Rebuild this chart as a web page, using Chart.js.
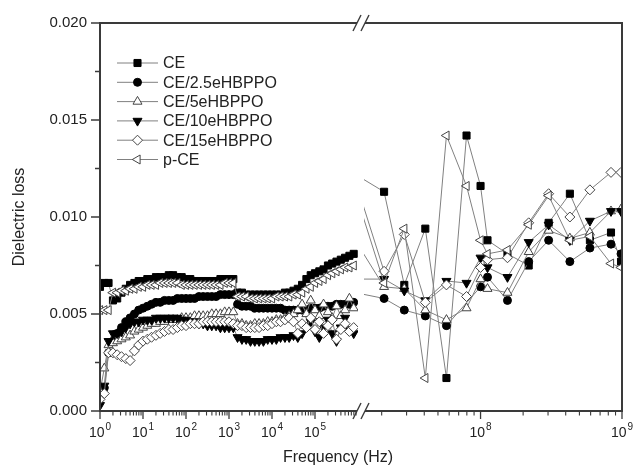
<!DOCTYPE html>
<html><head><meta charset="utf-8">
<script src="https://cdn.jsdelivr.net/npm/chart.js@4.4.1/dist/chart.umd.min.js"></script>
<style>
html,body{margin:0;padding:0;background:#fff;}
#wrap{position:relative;width:635px;height:472px;background:#fff;}
#wrap canvas{position:absolute;left:0;top:0;}
</style></head><body>
<div id="wrap"><canvas id="cL" width="635" height="472"></canvas><canvas id="cR" width="635" height="472"></canvas></div>
<script>
// ---------------- data ----------------
const seriesNames = ['CE', 'CE/2.5eHBPPO', 'CE/5eHBPPO', 'CE/10eHBPPO', 'CE/15eHBPPO', 'p-CE'];

// left part of the broken axis (Hz)
const leftFreq = [1,1.26,1.58,2,2.51,3.16,3.98,5.01,6.31,7.94,
  10,12.6,15.8,20,25.1,31.6,39.8,50.1,63.1,79.4,
  100,126,158,200,251,316,398,501,631,794,
  1000,1260,1580,2000,2510,3160,3980,5010,6310,7940,
  1e4,1.26e4,1.58e4,2e4,2.51e4,3.16e4,3.98e4,5.01e4,6.31e4,7.94e4,
  1e5,1.26e5,1.58e5,2e5,2.51e5,3.16e5,3.98e5,5.01e5,6.31e5,7.94e5];

const ceLeft = [0.0064,0.0066,0.0066,0.0057,0.0058,0.0061,0.0063,0.0065,0.0066,0.0067,
  0.0067,0.0068,0.0068,0.0069,0.0069,0.0069,0.0070,0.0070,0.0069,0.0069,
  0.0068,0.0068,0.0067,0.0067,0.0067,0.0067,0.0067,0.0067,0.0068,0.0068,
  0.0068,0.0068,0.0061,0.0061,0.0060,0.0060,0.0060,0.0060,0.0060,0.0060,
  0.0060,0.0060,0.0060,0.0061,0.0061,0.0062,0.0063,0.0065,0.0068,0.0070,
  0.0071,0.0072,0.0073,0.0075,0.0076,0.0077,0.0078,0.0079,0.0080,0.0081];
const ce25Left = [0.0008,0.0012,0.0030,0.0036,0.0040,0.0043,0.0046,0.0048,0.0050,0.0052,
  0.0053,0.0054,0.0055,0.0056,0.0056,0.0057,0.0057,0.0057,0.0058,0.0058,
  0.0058,0.0058,0.0058,0.0059,0.0059,0.0059,0.0059,0.0059,0.0060,0.0060,
  0.0060,0.0060,0.0055,0.0054,0.0054,0.0054,0.0053,0.0053,0.0053,0.0053,
  0.0053,0.0053,0.0053,0.0052,0.0052,0.0052,0.0052,0.0052,0.0052,0.0053,
  0.0053,0.0053,0.0054,0.0054,0.0054,0.0055,0.0055,0.0055,0.0055,0.0056];
const ce5Left = [0.0010,0.0022,0.0034,0.0035,0.0036,0.0037,0.0038,0.0039,0.0041,0.0042,
  0.0043,0.0044,0.0045,0.0045,0.0046,0.0046,0.0047,0.0047,0.0047,0.0048,
  0.0048,0.0048,0.0049,0.0049,0.0049,0.0049,0.0050,0.0050,0.0050,0.0051,
  0.0051,0.0051,0.0045,0.0045,0.0044,0.0044,0.0045,0.0045,0.0045,0.0046,
  0.0046,0.0047,0.0047,0.0048,0.0049,0.0050,0.0052,0.0055,0.0050,0.0057,
  0.0052,0.0049,0.0055,0.0051,0.0048,0.0054,0.0049,0.0052,0.0058,0.0053];
const ce10Left = [0.0003,0.0013,0.0036,0.0040,0.0040,0.0041,0.0043,0.0045,0.0046,0.0046,
  0.0047,0.0047,0.0047,0.0048,0.0048,0.0048,0.0048,0.0048,0.0048,0.0047,
  0.0047,0.0046,0.0046,0.0045,0.0045,0.0044,0.0044,0.0044,0.0043,0.0043,
  0.0043,0.0043,0.0038,0.0037,0.0037,0.0036,0.0036,0.0036,0.0036,0.0037,
  0.0037,0.0037,0.0038,0.0038,0.0038,0.0039,0.0038,0.0040,0.0044,0.0046,
  0.0041,0.0038,0.0043,0.0047,0.0040,0.0036,0.0043,0.0048,0.0042,0.0040];
const ce15Left = [0.0006,0.0009,0.0030,0.0030,0.0029,0.0028,0.0027,0.0026,0.0031,0.0034,
  0.0036,0.0037,0.0038,0.0039,0.0040,0.0041,0.0042,0.0042,0.0043,0.0044,
  0.0044,0.0045,0.0045,0.0045,0.0046,0.0046,0.0046,0.0046,0.0046,0.0046,
  0.0046,0.0045,0.0044,0.0044,0.0043,0.0043,0.0043,0.0043,0.0044,0.0044,
  0.0045,0.0046,0.0046,0.0047,0.0048,0.0046,0.0040,0.0045,0.0043,0.0048,
  0.0042,0.0046,0.0040,0.0044,0.0047,0.0037,0.0042,0.0045,0.0041,0.0043];
const pceLeft = [0.0052,0.0052,0.0052,0.0061,0.0061,0.0062,0.0062,0.0063,0.0063,0.0064,
  0.0064,0.0065,0.0065,0.0065,0.0066,0.0066,0.0066,0.0066,0.0066,0.0065,
  0.0065,0.0065,0.0065,0.0065,0.0065,0.0065,0.0065,0.0065,0.0065,0.0066,
  0.0066,0.0066,0.0059,0.0059,0.0059,0.0058,0.0058,0.0058,0.0058,0.0058,
  0.0058,0.0059,0.0059,0.0059,0.0059,0.0060,0.0060,0.0061,0.0063,0.0064,
  0.0066,0.0067,0.0068,0.0070,0.0071,0.0072,0.0073,0.0074,0.0074,0.0075];

// right part of the broken axis (Hz)
const rightFreq = [1.3e7,2.08e7,2.89e7,4.07e7,5.74e7,7.96e7,1.0e8,1.12e8,1.55e8,2.19e8,3.03e8,4.28e8,5.93e8,8.36e8,9.84e8];
const ceRight   = [0.0122,0.0113,0.0065,0.0094,0.0017,0.0142,0.0116,0.0088,0.0081,0.0075,0.0097,0.0112,0.0088,0.0092,0.0077];
const ce25Right = [0.0061,0.0058,0.0052,0.0049,0.0044,null,0.0064,0.0069,0.0057,0.0077,0.0088,0.0077,0.0084,0.0086,0.0081];
const ce5Right  = [0.0088,0.0064,0.0063,0.0052,0.0047,0.0053,0.0068,0.0063,0.0061,0.0082,0.0093,0.0089,0.0092,0.0103,0.0104];
const ce10Right = [0.0068,0.0068,0.0062,0.0057,0.0067,0.0066,0.0079,0.0074,0.0069,0.0087,0.0096,0.0088,0.0098,0.0103,0.0103];
const ce15Right = [0.0119,0.0072,0.0091,0.0056,0.0065,0.0059,0.0074,0.0078,0.0079,0.0097,0.0112,0.0100,0.0114,0.0123,0.0123];
const pceRight  = [0.0113,0.0066,0.0094,0.0017,0.0142,0.0116,0.0088,0.0081,0.0083,0.0096,0.0111,0.0088,0.0090,0.0076,0.0074];

// ticks
const yMajorTicks = [0, 0.005, 0.010, 0.015, 0.020];
const yMinorTicks = [0.0025, 0.0075, 0.0125, 0.0175];
const leftMajorTicks = [1, 10, 100, 1000, 10000, 100000];
const leftTickExps = ['0', '1', '2', '3', '4', '5'];
const rightMajorTicks = [1e8, 1e9];
const rightTickExps = ['8', '9'];
const xTitle = 'Frequency (Hz)';
const yTitle = 'Dielectric loss';

// ---------------- styles ----------------
const FONT = "'Liberation Sans', Arial, Helvetica, sans-serif";
const TEXT = '#222';
const AXIS = '#3a3a3a';
const LINE = '#808080';
const styles = [
  {style: 'rect', radius: 5, rotation: 0, bg: '#000', border: '#000'},
  {style: 'circle', radius: 4, rotation: 0, bg: '#000', border: '#000'},
  {style: 'triangle', radius: 5.2, rotation: 0, bg: '#fff', border: '#444'},
  {style: 'triangle', radius: 5.2, rotation: 180, bg: '#000', border: '#000'},
  {style: 'rectRot', radius: 5, rotation: 0, bg: '#fff', border: '#444'},
  {style: 'triangle', radius: 5.2, rotation: 270, bg: '#fff', border: '#444'}
];
const drawOrder = [6, 5, 4, 3, 2, 1];
const leftSets = [ceLeft, ce25Left, ce5Left, ce10Left, ce15Left, pceLeft];
const rightSets = [ceRight, ce25Right, ce5Right, ce10Right, ce15Right, pceRight];

function makeDatasets(freqs, sets, clip) {
  return sets.map((vals, k) => {
    const st = styles[k];
    const ds = {
      label: seriesNames[k],
      data: freqs.map((f, i) => ({x: f, y: vals[i]})),
      borderColor: LINE, borderWidth: 1, tension: 0, spanGaps: true,
      pointStyle: st.style, pointRadius: st.radius, pointRotation: st.rotation,
      pointBackgroundColor: st.bg, pointBorderColor: st.border, pointBorderWidth: 1,
      order: drawOrder[k]
    };
    if (clip) ds.clip = clip;
    return ds;
  });
}

// geometry of the plot frame
const TOP = 23, BOTTOM = 411, LEFT = 100, BREAK_L = 358, BREAK_R = 364, RIGHT = 622;

function line(ctx, x1, y1, x2, y2, w, c) {
  ctx.beginPath(); ctx.moveTo(x1, y1); ctx.lineTo(x2, y2);
  ctx.lineWidth = w; ctx.strokeStyle = c; ctx.stroke();
}
function minorList(majors) {
  const out = [];
  majors.forEach(m => { for (let d = 2; d <= 9; d++) out.push(m * d); });
  return out;
}
function powLabel(ctx, x, exp) {
  ctx.save();
  ctx.fillStyle = TEXT; ctx.textBaseline = 'alphabetic'; ctx.textAlign = 'left';
  ctx.font = '14px ' + FONT;
  const w1 = ctx.measureText('10').width;
  ctx.font = '10px ' + FONT;
  const w2 = ctx.measureText(exp).width;
  const x0 = x - (w1 + w2 + 1) / 2;
  ctx.font = '14px ' + FONT;
  ctx.fillText('10', x0, 437);
  ctx.font = '10px ' + FONT;
  ctx.fillText(exp, x0 + w1 + 1, 430);
  ctx.restore();
}
function drawMarker(ctx, st, x, y) {
  ctx.save();
  ctx.fillStyle = st.bg; ctx.strokeStyle = st.border; ctx.lineWidth = 1;
  if (window.Chart && Chart.helpers && Chart.helpers.drawPoint) {
    Chart.helpers.drawPoint(ctx, {pointStyle: st.style, radius: st.radius, rotation: st.rotation, borderWidth: 1}, x, y);
  } else {
    ctx.beginPath(); ctx.arc(x, y, st.radius, 0, Math.PI * 2); ctx.fill(); ctx.stroke();
  }
  ctx.restore();
}
function breakMarks(ctx, y) {
  ctx.save();
  ctx.fillStyle = '#fff';
  ctx.fillRect(BREAK_L - 1, y - 2, BREAK_R - BREAK_L + 2, 4);
  line(ctx, BREAK_L - 5, y + 8, BREAK_L + 3, y - 8, 1.4, AXIS);
  line(ctx, BREAK_R - 3, y + 8, BREAK_R + 5, y - 8, 1.4, AXIS);
  ctx.restore();
}

const leftDecor = {
  id: 'leftDecor',
  afterDraw(chart) {
    const ctx = chart.ctx, xs = chart.scales.x, ys = chart.scales.y;
    ctx.save();
    ctx.lineCap = 'butt';
    line(ctx, LEFT, TOP - 1, LEFT, BOTTOM + 1, 2, AXIS);
    line(ctx, LEFT, BOTTOM, BREAK_L, BOTTOM, 2, AXIS);
    line(ctx, LEFT, TOP, BREAK_L, TOP, 2, AXIS);
    yMajorTicks.forEach(v => { const y = ys.getPixelForValue(v); line(ctx, LEFT - 9, y, LEFT, y, 1.5, AXIS); });
    yMinorTicks.forEach(v => { const y = ys.getPixelForValue(v); line(ctx, LEFT - 5, y, LEFT, y, 1.5, AXIS); });
    leftMajorTicks.forEach((v, i) => {
      const x = xs.getPixelForValue(v);
      line(ctx, x, BOTTOM, x, BOTTOM + 8, 1.3, AXIS);
      powLabel(ctx, x, leftTickExps[i]);
    });
    minorList(leftMajorTicks).forEach(v => {
      const x = xs.getPixelForValue(v);
      if (x < BREAK_L - 1) line(ctx, x, BOTTOM, x, BOTTOM + 4.5, 1.1, AXIS);
    });
    seriesNames.forEach((name, k) => {
      const y = 63 + k * 19.3;
      line(ctx, 117, y, 158, y, 1, LINE);
      drawMarker(ctx, styles[k], 137.5, y);
      ctx.fillStyle = TEXT; ctx.font = '16px ' + FONT;
      ctx.textAlign = 'left'; ctx.textBaseline = 'middle';
      ctx.fillText(name, 163, y + 1);
    });
    ctx.restore();
  }
};

const rightDecor = {
  id: 'rightDecor',
  afterDraw(chart) {
    const ctx = chart.ctx, xs = chart.scales.x;
    ctx.save();
    ctx.lineCap = 'butt';
    line(ctx, BREAK_R, BOTTOM, RIGHT + 1, BOTTOM, 2, AXIS);
    line(ctx, BREAK_R, TOP, RIGHT + 1, TOP, 2, AXIS);
    line(ctx, RIGHT, TOP - 1, RIGHT, BOTTOM + 1, 2, AXIS);
    rightMajorTicks.forEach((v, i) => {
      const x = xs.getPixelForValue(v);
      line(ctx, x, BOTTOM, x, BOTTOM + 8, 1.3, AXIS);
      powLabel(ctx, x, rightTickExps[i]);
    });
    minorList([1e7, 1e8]).forEach(v => {
      const x = xs.getPixelForValue(v);
      if (x > BREAK_R + 1 && x < RIGHT - 1) line(ctx, x, BOTTOM, x, BOTTOM + 4.5, 1.1, AXIS);
    });
    breakMarks(ctx, TOP);
    breakMarks(ctx, BOTTOM);
    ctx.fillStyle = TEXT; ctx.font = '16px ' + FONT;
    ctx.textAlign = 'center'; ctx.textBaseline = 'middle';
    ctx.fillText(xTitle, 338, 458);
    ctx.restore();
  }
};

const common = {
  responsive: false, animation: false, devicePixelRatio: 1,
  plugins: {legend: {display: false}, tooltip: {enabled: false}},
  events: []
};

const chartL = new Chart(document.getElementById('cL'), {
  type: 'line',
  data: {datasets: makeDatasets(leftFreq, leftSets, null)},
  options: Object.assign({}, common, {
    layout: {padding: {left: 0, right: 635 - BREAK_L, top: TOP, bottom: 0}},
    scales: {
      x: {type: 'logarithmic', min: 1, max: 1e6,
          ticks: {display: false}, grid: {display: false, drawTicks: false}, border: {display: false},
          afterFit: s => { s.height = 472 - BOTTOM; }},
      y: {type: 'linear', min: 0, max: 0.02,
          afterFit: s => { s.width = LEFT; },
          ticks: {stepSize: 0.005, padding: 13, color: TEXT, font: {family: FONT, size: 15},
                  callback: v => Number(v).toFixed(3)},
          grid: {display: false, drawTicks: false}, border: {display: false},
          title: {display: true, text: yTitle, color: TEXT, font: {family: FONT, size: 16}, padding: {top: 10, bottom: 0}}}
    }
  }),
  plugins: [leftDecor]
});

const chartR = new Chart(document.getElementById('cR'), {
  type: 'line',
  data: {datasets: makeDatasets(rightFreq, rightSets, {left: 0, right: 0, top: false, bottom: false})},
  options: Object.assign({}, common, {
    layout: {padding: {left: BREAK_R, right: 635 - RIGHT, top: TOP, bottom: 0}},
    scales: {
      x: {type: 'logarithmic', min: 1.5e7, max: 1e9,
          ticks: {display: false}, grid: {display: false, drawTicks: false}, border: {display: false},
          afterFit: s => { s.height = 472 - BOTTOM; }},
      y: {display: false, min: 0, max: 0.02}
    }
  }),
  plugins: [rightDecor]
});
</script>
</body></html>
